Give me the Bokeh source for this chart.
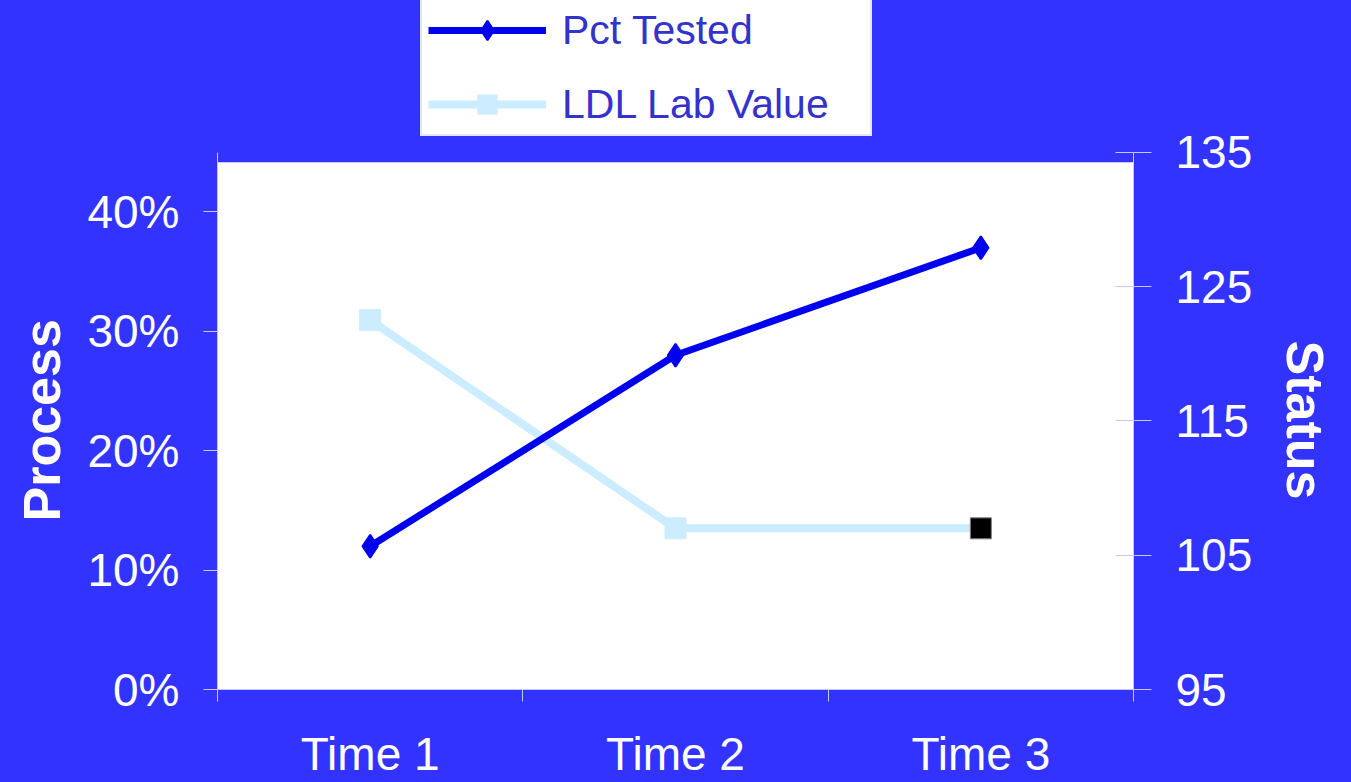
from bokeh.plotting import figure
from bokeh.models import (Range1d, LinearAxis, FixedTicker, NumeralTickFormatter,
                          Legend, LegendItem, BoxAnnotation, Title)
from bokeh.embed import file_html
from bokeh.resources import INLINE

# ---- data -------------------------------------------------------------
categories = ["Time 1", "Time 2", "Time 3"]
pct_tested = [0.12, 0.28, 0.37]          # process measure (left axis)
ldl_value = [122.5, 107.0, 107.0]        # status measure (right axis)
process_ticks = [0.0, 0.1, 0.2, 0.3, 0.4]
status_ticks = [95, 105, 115, 125, 135]
process_limits = (0.0, 0.45)
status_limits = (95.0, 135.0)

# ---- style ------------------------------------------------------------
BG = "#3333FF"
PCT_COLOR = "#0000EE"
LDL_COLOR = "#CCECFF"
AXIS_COLOR = "#C8C8F5"
LEGEND_TEXT = "#3333CC"
FONT = "Liberation Sans"
TICK_SIZE = "46px"
TITLE_SIZE = "52px"

# canvas geometry: the frame reaches the top edge so the legend can sit
# above the axes; the axes themselves are bounded to their own limits
W, H = 1351, 782
LEFT, RIGHT, BOTTOM = 217, 218, 92
AXIS_TOP = 152          # pixel row where the value axes end
WHITE_TOP = 162         # pixel row where the white plotting area starts
LEGEND_BOTTOM = 137     # pixel row of the legend's lower edge
frame_h = H - BOTTOM
axis_h = frame_h - AXIS_TOP


def extend(lo, hi):
    return lo + (hi - lo) * frame_h / axis_h


x = list(range(len(categories)))
boundaries = [i - 0.5 for i in range(len(categories) + 1)]

p = figure(width=W, height=H, output_backend="svg", toolbar_location=None,
           x_range=Range1d(boundaries[0], boundaries[-1]),
           y_range=Range1d(process_limits[0], extend(*process_limits)),
           background_fill_color=BG, border_fill_color=BG,
           outline_line_color=None,
           min_border_left=LEFT, min_border_right=RIGHT,
           min_border_top=0, min_border_bottom=BOTTOM)
p.styles = {"background-color": BG}
p.extra_y_ranges = {"status": Range1d(status_limits[0], extend(*status_limits))}
p.grid.visible = False

# white plotting area below the top of the axes
white_top_status = status_limits[0] + (status_limits[1] - status_limits[0]) * (frame_h - WHITE_TOP) / axis_h
p.add_layout(BoxAnnotation(top=white_top_status, y_range_name="status", fill_color="white",
                           fill_alpha=1, line_color=None, level="underlay"))

# ---- category axis: labels centred, ticks on the boundaries ------------
xa = p.xaxis[0]
xa.ticker = FixedTicker(ticks=x, minor_ticks=boundaries)
xa.major_label_overrides = {i: c for i, c in enumerate(categories)}
xa.major_tick_line_color = None
xa.major_tick_out = 12
xa.major_tick_in = 0
xa.minor_tick_line_color = AXIS_COLOR
xa.minor_tick_out = 12
xa.minor_tick_in = 0
xa.axis_line_color = AXIS_COLOR
xa.major_label_text_font = FONT
xa.major_label_text_font_size = TICK_SIZE
xa.major_label_text_color = "white"
xa.major_label_standoff = 26

# ---- left axis --------------------------------------------------------
ya = p.yaxis[0]
ya.bounds = process_limits
ya.ticker = FixedTicker(ticks=process_ticks)
ya.formatter = NumeralTickFormatter(format="0%")
ya.axis_line_color = AXIS_COLOR
ya.major_tick_line_color = AXIS_COLOR
ya.major_tick_out = 14
ya.major_tick_in = 0
ya.minor_tick_line_color = None
ya.major_label_text_font = FONT
ya.major_label_text_font_size = TICK_SIZE
ya.major_label_text_color = "white"
ya.major_label_standoff = 24

# ---- right axis -------------------------------------------------------
ra = LinearAxis(y_range_name="status", ticker=FixedTicker(ticks=status_ticks),
                bounds=status_limits)
ra.axis_line_color = AXIS_COLOR
ra.major_tick_line_color = AXIS_COLOR
ra.major_tick_out = 18
ra.major_tick_in = 18
ra.minor_tick_line_color = None
ra.major_label_text_font = FONT
ra.major_label_text_font_size = TICK_SIZE
ra.major_label_text_color = "white"
ra.major_label_standoff = 24
p.add_layout(ra, "right")

# ---- axis titles, placed along the bounded axes -------------------------
title_style = dict(text_font=FONT, text_font_size=TITLE_SIZE, text_font_style="bold",
                   text_color="white")
p.add_layout(Title(text="Process", align="left", offset=168, vertical_align="top",
                   standoff=24, **title_style), "left")
p.add_layout(Title(text="Status", align="left", offset=340, vertical_align="top",
                   standoff=36, **title_style), "right")

# ---- series -----------------------------------------------------------
ldl_line = p.line(x, ldl_value, y_range_name="status",
                  line_color=LDL_COLOR, line_width=8)
ldl_pts = p.scatter(x[:-1], ldl_value[:-1], y_range_name="status", marker="square",
                    size=21, fill_color=LDL_COLOR, line_color=LDL_COLOR)
p.scatter(x[-1:], ldl_value[-1:], y_range_name="status", marker="square",
          size=21, fill_color="black", line_color="#808080", line_width=1)

pct_line = p.line(x, pct_tested, line_color=PCT_COLOR, line_width=7)
pct_pts = p.scatter(x, pct_tested, marker="diamond", size=23, line_width=2,
                    fill_color=PCT_COLOR, line_color=PCT_COLOR)

# ---- legend above the axes ---------------------------------------------
legend = Legend(
    items=[LegendItem(label="Pct Tested", renderers=[pct_line, pct_pts]),
           LegendItem(label="LDL Lab Value", renderers=[ldl_line, ldl_pts])],
    location=(203, frame_h - LEGEND_BOTTOM), orientation="vertical", margin=0,
    background_fill_color="white", background_fill_alpha=1,
    border_line_color="#CCCCFF", border_line_width=2,
    label_text_font=FONT, label_text_font_size="41px", label_text_color=LEGEND_TEXT,
    glyph_width=118, glyph_height=48, label_height=48, label_width=302,
    padding=6, spacing=26, label_standoff=16,
)
p.add_layout(legend)

open("out.html", "w").write(file_html(p, INLINE))
